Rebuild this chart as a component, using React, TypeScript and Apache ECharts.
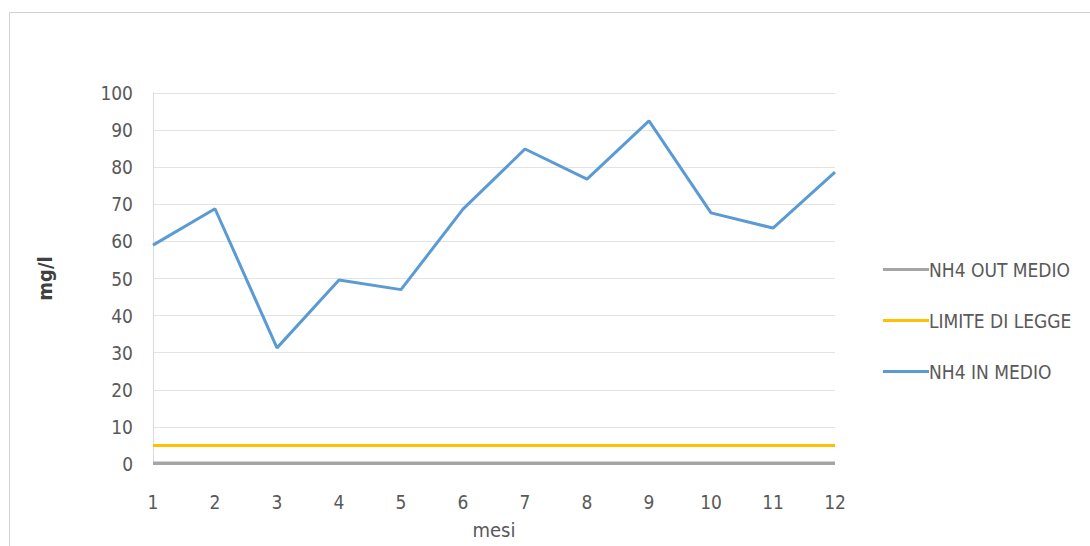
import React, { useEffect, useRef } from "react";
import * as echarts from "echarts";

const months = ["1", "2", "3", "4", "5", "6", "7", "8", "9", "10", "11", "12"];
const nh4Out = [0.2, 0.2, 0.2, 0.2, 0.2, 0.2, 0.2, 0.2, 0.2, 0.2, 0.2, 0.2];
const limiteLegge = [5, 5, 5, 5, 5, 5, 5, 5, 5, 5, 5, 5];
const nh4In = [59, 68.8, 31.3, 49.6, 47, 68.7, 84.9, 76.8, 92.5, 67.7, 63.6, 78.7];

const FONT = "'Liberation Sans Narrow', 'DejaVu Sans Condensed', 'Open Sans', sans-serif";

export default function App() {
  const ref = useRef<HTMLDivElement>(null);

  useEffect(() => {
    if (!ref.current) return;
    const chart = echarts.init(ref.current, null, { renderer: "svg" });
    const lineSeries = (name: string, data: number[], color: string, width: number, z: number) => ({
      name,
      type: "line",
      data,
      symbol: "none",
      z,
      lineStyle: { color, width },
      itemStyle: { color },
    });
    chart.setOption({
      animation: false,
      backgroundColor: "#ffffff",
      textStyle: { fontFamily: FONT },
      graphic: [
        {
          type: "rect",
          shape: { x: 9.5, y: 12.5, width: 1100, height: 600 },
          style: { fill: "none", stroke: "#d0d0d0", lineWidth: 1 },
          silent: true,
        },
      ],
      grid: { left: 153, right: 255, top: 93, bottom: 82 },
      legend: {
        orient: "vertical",
        left: 878,
        top: 255,
        itemGap: 32,
        itemWidth: 46,
        itemHeight: 3,
        icon: "rect",
        data: ["NH4 OUT MEDIO", "LIMITE DI LEGGE", "NH4 IN MEDIO"],
        textStyle: { fontFamily: FONT, fontSize: 19, color: "#595959", padding: [0, 0, 0, -5] },
      },
      xAxis: {
        type: "category",
        data: months,
        boundaryGap: false,
        name: "mesi",
        nameLocation: "middle",
        nameGap: 56,
        nameTextStyle: { fontFamily: FONT, fontSize: 20, color: "#595959" },
        axisLine: { show: false },
        axisTick: { show: false },
        axisLabel: { fontFamily: FONT, fontSize: 19, color: "#595959", margin: 28 },
        splitLine: { show: false },
      },
      yAxis: {
        type: "value",
        min: 0,
        max: 100,
        interval: 10,
        name: "mg/l",
        nameLocation: "middle",
        nameGap: 98,
        nameTextStyle: { fontFamily: FONT, fontSize: 20, fontWeight: "bold", color: "#404040" },
        axisLine: { show: true, lineStyle: { color: "#d9d9d9", width: 1 } },
        axisTick: { show: false },
        axisLabel: { fontFamily: FONT, fontSize: 19, color: "#595959", margin: 20 },
        splitLine: { lineStyle: { color: "#e3e3e3", width: 1 } },
      },
      series: [
        lineSeries("NH4 OUT MEDIO", nh4Out, "#a5a5a5", 3.5, 2),
        lineSeries("LIMITE DI LEGGE", limiteLegge, "#ffc000", 3, 3),
        lineSeries("NH4 IN MEDIO", nh4In, "#5b9bd5", 3, 4),
      ],
    });
    return () => chart.dispose();
  }, []);

  return (
    <div
      ref={ref}
      style={{ position: "absolute", left: 0, top: 0, width: 1090, height: 546 }}
    />
  );
}
